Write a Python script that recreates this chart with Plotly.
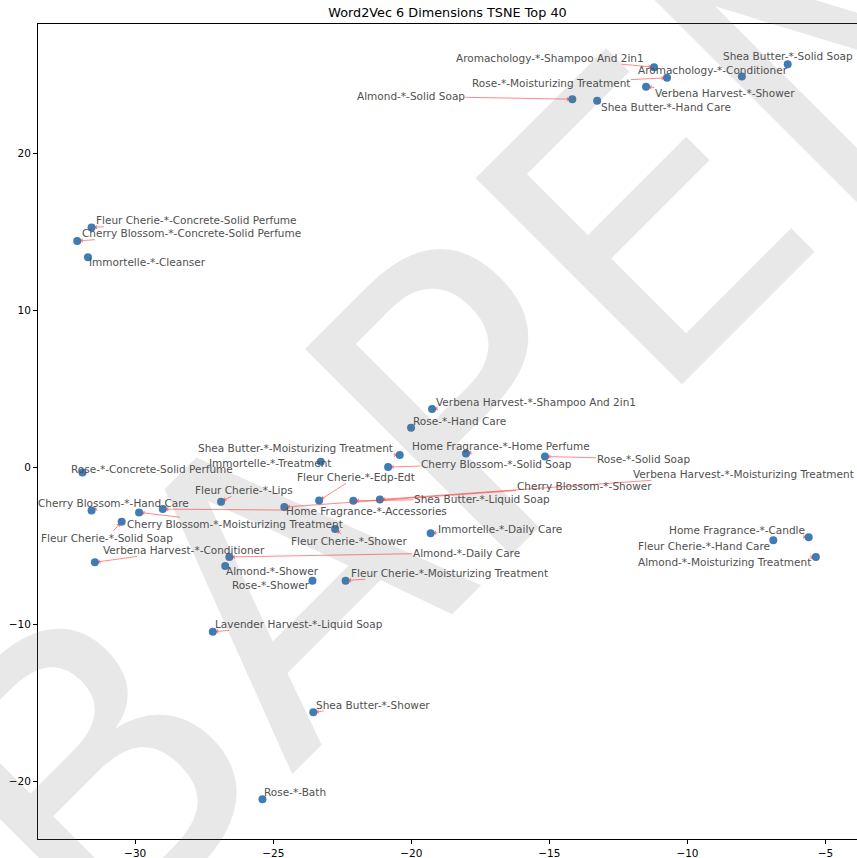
import plotly.graph_objects as go

labels = [
    "Aromachology-*-Shampoo And 2in1", "Aromachology-*-Conditioner", "Rose-*-Moisturizing Treatment",
    "Verbena Harvest-*-Shower", "Almond-*-Solid Soap", "Shea Butter-*-Hand Care", "Shea Butter-*-Solid Soap",
    "Fleur Cherie-*-Concrete-Solid Perfume", "Cherry Blossom-*-Concrete-Solid Perfume", "Immortelle-*-Cleanser",
    "Verbena Harvest-*-Shampoo And 2in1", "Rose-*-Hand Care", "Shea Butter-*-Moisturizing Treatment",
    "Immortelle-*-Treatment", "Home Fragrance-*-Home Perfume", "Cherry Blossom-*-Solid Soap", "Rose-*-Solid Soap",
    "Rose-*-Concrete-Solid Perfume", "Verbena Harvest-*-Moisturizing Treatment", "Fleur Cherie-*-Edp-Edt",
    "Cherry Blossom-*-Shower", "Fleur Cherie-*-Lips", "Shea Butter-*-Liquid Soap", "Cherry Blossom-*-Hand Care",
    "Home Fragrance-*-Accessories", "Cherry Blossom-*-Moisturizing Treatment", "Immortelle-*-Daily Care",
    "Fleur Cherie-*-Shower", "Fleur Cherie-*-Solid Soap", "Verbena Harvest-*-Conditioner", "Almond-*-Daily Care",
    "Almond-*-Shower", "Fleur Cherie-*-Moisturizing Treatment", "Rose-*-Shower", "Home Fragrance-*-Candle",
    "Fleur Cherie-*-Hand Care", "Almond-*-Moisturizing Treatment", "Lavender Harvest-*-Liquid Soap",
    "Shea Butter-*-Shower", "Rose-*-Bath",
]

tsne_x = [
    -11.21, -8.03, -10.74, -11.50, -14.17, -13.27, -6.37,
    -31.58, -32.10, -31.71,
    -19.25, -20.01, -20.42, -23.28, -18.02, -20.84, -15.16,
    -31.91, -21.14, -23.34, -24.60, -26.89, -22.10, -31.58,
    -29.00, -29.86, -19.30, -22.76, -30.49, -31.46, -26.59,
    -26.74, -22.38, -23.58, -5.61, -6.89, -5.35, -27.19,
    -23.55, -25.39,
]
tsne_y = [
    25.51, 24.92, 24.83, 24.26, 23.47, 23.37, 25.70,
    15.29, 14.44, 13.40,
    3.73, 2.53, 0.79, 0.36, 0.89, 0.03, 0.70,
    -0.32, -2.04, -2.10, -2.52, -2.18, -2.12, -2.74,
    -2.65, -2.86, -4.19, -3.92, -3.45, -6.04, -5.70,
    -6.27, -7.21, -7.21, -4.45, -4.64, -5.70, -10.47,
    -15.60, -21.14,
]
# label (text centre) positions
label_x = [
    -14.98, -9.08, -14.93, -8.65, -20.02, -10.79, -6.35,
    -27.79, -27.95, -29.55,
    -15.49, -18.27, -24.19, -25.13, -16.77, -16.91, -11.61,
    -29.39, -7.98, -21.99, -13.74, -26.07, -17.45, -30.78,
    -21.61, -26.39, -16.79, -22.24, -31.01, -28.25, -18.01,
    -25.04, -18.61, -25.07, -8.22, -9.40, -8.66, -24.06,
    -21.39, -24.22,
]
label_y = [
    26.11, 25.30, 24.47, 23.84, 23.65, 22.96, 26.19,
    15.76, 14.93, 13.09,
    4.16, 2.97, 1.23, 0.28, 1.38, 0.24, 0.55,
    -0.08, -0.40, -0.59, -1.16, -1.42, -1.99, -2.23,
    -2.75, -3.58, -3.90, -4.66, -4.47, -5.25, -5.43,
    -6.62, -6.70, -7.51, -4.01, -4.98, -6.02, -9.96,
    -15.10, -20.69,
]

x_ticks = [-30, -25, -20, -15, -10, -5]
y_ticks = [-20, -10, 0, 10, 20]
title = "Word2Vec 6 Dimensions TSNE Top 40"
watermark = "BAPEN"

FONT = "DejaVu Sans"

fig = go.Figure()
fig.add_trace(go.Scatter(
    x=tsne_x, y=tsne_y, mode="markers",
    marker=dict(size=8, color="#3f7bb4"),
    hoverinfo="skip", showlegend=False,
))

annotations = [dict(
    text=watermark, xref="paper", yref="paper", x=0.53, y=0.54,
    showarrow=False, textangle=-45,
    font=dict(family=FONT, size=400, color="rgba(120,120,120,0.17)"),
    xanchor="center", yanchor="middle",
)]
for lab, px, py, tx, ty in zip(labels, tsne_x, tsne_y, label_x, label_y):
    annotations.append(dict(
        text=lab, x=px, y=py, ax=tx, ay=ty, xref="x", yref="y", axref="x", ayref="y",
        showarrow=True, arrowhead=1, arrowsize=0.9, arrowwidth=0.9,
        arrowcolor="rgba(255,40,40,0.6)", standoff=3,
        font=dict(family=FONT, size=10.5, color="#505050"),
        xanchor="center", yanchor="middle", borderpad=0,
    ))

fig.update_layout(
    width=857, height=858,
    margin=dict(l=38, r=0, t=24, b=19),
    paper_bgcolor="white", plot_bgcolor="white",
    title=dict(text=title, x=(38 + 857) / 2 / 857, xanchor="center", y=1 - 13 / 858, yanchor="middle",
               xref="container", yref="container",
               font=dict(family=FONT, size=12.8, color="black")),
    annotations=annotations,
    font=dict(family=FONT),
)
fig.update_xaxes(
    range=[-33.52, -3.86], tickvals=x_ticks, showgrid=False, zeroline=False,
    showline=True, linecolor="black", linewidth=1, mirror=True,
    ticks="outside", ticklen=4, tickcolor="black", tickwidth=1,
    tickfont=dict(family=FONT, size=10.5, color="black"), automargin=False,
)
fig.update_yaxes(
    range=[-23.67, 28.26], tickvals=y_ticks, showgrid=False, zeroline=False,
    showline=True, linecolor="black", linewidth=1, mirror=False,
    ticks="outside", ticklen=4, tickcolor="black", tickwidth=1,
    tickfont=dict(family=FONT, size=10.5, color="black"), automargin=False,
)

fig.write_html("out.html", config={"displayModeBar": False},
               post_script="document.body.style.margin='0px';document.body.style.overflow='hidden';")
